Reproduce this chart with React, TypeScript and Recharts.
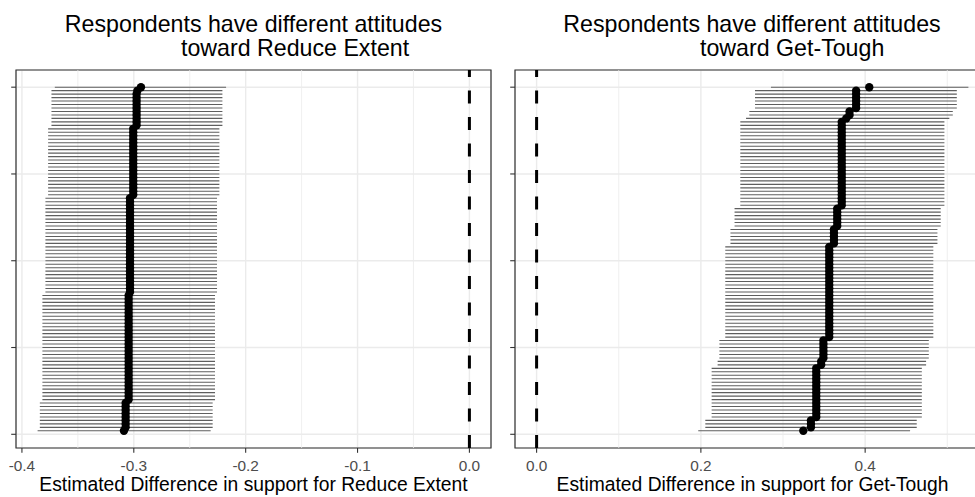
import React from 'react';
import {
  ScatterChart,
  Scatter,
  ErrorBar,
  XAxis,
  YAxis,
  CartesianGrid,
  ReferenceLine,
  ReferenceArea,
} from 'recharts';

const FONT = '"Liberation Sans", Arial, Helvetica, sans-serif';

// row 1 = bottom of the panel, row 100 = top (respondents sorted by estimate)
const reduceEst = [
  -0.3088, -0.3073, -0.3073, -0.3073, -0.3073, -0.3073, -0.3073, -0.3073, -0.3073, -0.3046,
  -0.3046, -0.3046, -0.3046, -0.3046, -0.3046, -0.3046, -0.3046, -0.3046, -0.3046, -0.3046,
  -0.3046, -0.3046, -0.3046, -0.3046, -0.3046, -0.3046, -0.3046, -0.3046, -0.3046, -0.3046,
  -0.3046, -0.3046, -0.3046, -0.3046, -0.3046, -0.3046, -0.3046, -0.3046, -0.3046, -0.3046,
  -0.3034, -0.3034, -0.3034, -0.3034, -0.3034, -0.3034, -0.3034, -0.3034, -0.3034, -0.3034,
  -0.3034, -0.3034, -0.3034, -0.3034, -0.3034, -0.3034, -0.3034, -0.3034, -0.3034, -0.3034,
  -0.3034, -0.3034, -0.3034, -0.3034, -0.3034, -0.3034, -0.3034, -0.3034, -0.3005, -0.3005,
  -0.3005, -0.3005, -0.3005, -0.3005, -0.3005, -0.3005, -0.3005, -0.3005, -0.3005, -0.3005,
  -0.3005, -0.3005, -0.3005, -0.3005, -0.3005, -0.3005, -0.3005, -0.3005, -0.2975, -0.2975,
  -0.2975, -0.2975, -0.2975, -0.2975, -0.2975, -0.2975, -0.2975, -0.2975, -0.2968, -0.2936,
];
const reduceLow = [
  -0.3860, -0.3840, -0.3840, -0.3840, -0.3840, -0.3840, -0.3840, -0.3840, -0.3840, -0.3817,
  -0.3817, -0.3817, -0.3817, -0.3817, -0.3817, -0.3817, -0.3817, -0.3817, -0.3817, -0.3817,
  -0.3817, -0.3817, -0.3817, -0.3817, -0.3817, -0.3817, -0.3817, -0.3817, -0.3817, -0.3817,
  -0.3817, -0.3817, -0.3817, -0.3817, -0.3817, -0.3817, -0.3817, -0.3817, -0.3817, -0.3817,
  -0.3790, -0.3790, -0.3790, -0.3790, -0.3790, -0.3790, -0.3790, -0.3790, -0.3790, -0.3790,
  -0.3790, -0.3790, -0.3790, -0.3790, -0.3790, -0.3790, -0.3790, -0.3790, -0.3790, -0.3790,
  -0.3790, -0.3790, -0.3790, -0.3790, -0.3790, -0.3790, -0.3790, -0.3790, -0.3766, -0.3766,
  -0.3766, -0.3766, -0.3766, -0.3766, -0.3766, -0.3766, -0.3766, -0.3766, -0.3766, -0.3766,
  -0.3766, -0.3766, -0.3766, -0.3766, -0.3766, -0.3766, -0.3766, -0.3766, -0.3736, -0.3736,
  -0.3736, -0.3736, -0.3736, -0.3736, -0.3736, -0.3736, -0.3736, -0.3736, -0.3736, -0.3706,
];
const reduceHigh = [
  -0.2313, -0.2295, -0.2295, -0.2295, -0.2295, -0.2295, -0.2295, -0.2295, -0.2295, -0.2274,
  -0.2274, -0.2274, -0.2274, -0.2274, -0.2274, -0.2274, -0.2274, -0.2274, -0.2274, -0.2274,
  -0.2274, -0.2274, -0.2274, -0.2274, -0.2274, -0.2274, -0.2274, -0.2274, -0.2274, -0.2274,
  -0.2274, -0.2274, -0.2274, -0.2274, -0.2274, -0.2274, -0.2274, -0.2274, -0.2274, -0.2274,
  -0.2256, -0.2256, -0.2256, -0.2256, -0.2256, -0.2256, -0.2256, -0.2256, -0.2256, -0.2256,
  -0.2256, -0.2256, -0.2256, -0.2256, -0.2256, -0.2256, -0.2256, -0.2256, -0.2256, -0.2256,
  -0.2256, -0.2256, -0.2256, -0.2256, -0.2256, -0.2256, -0.2256, -0.2256, -0.2235, -0.2235,
  -0.2235, -0.2235, -0.2235, -0.2235, -0.2235, -0.2235, -0.2235, -0.2235, -0.2235, -0.2235,
  -0.2235, -0.2235, -0.2235, -0.2235, -0.2235, -0.2235, -0.2235, -0.2235, -0.2208, -0.2208,
  -0.2208, -0.2208, -0.2208, -0.2208, -0.2208, -0.2208, -0.2208, -0.2208, -0.2208, -0.2175,
];

const toughEst = [
  0.3247, 0.3340, 0.3340, 0.3340, 0.3405, 0.3405, 0.3405, 0.3405, 0.3405, 0.3405,
  0.3405, 0.3405, 0.3405, 0.3405, 0.3405, 0.3405, 0.3405, 0.3405, 0.3405, 0.3465,
  0.3465, 0.3492, 0.3492, 0.3492, 0.3492, 0.3492, 0.3492, 0.3563, 0.3563, 0.3563,
  0.3563, 0.3563, 0.3563, 0.3563, 0.3563, 0.3563, 0.3563, 0.3563, 0.3563, 0.3563,
  0.3563, 0.3563, 0.3563, 0.3563, 0.3563, 0.3563, 0.3563, 0.3563, 0.3563, 0.3563,
  0.3563, 0.3563, 0.3563, 0.3563, 0.3620, 0.3620, 0.3620, 0.3620, 0.3620, 0.3660,
  0.3660, 0.3660, 0.3660, 0.3660, 0.3660, 0.3715, 0.3715, 0.3715, 0.3715, 0.3715,
  0.3715, 0.3715, 0.3715, 0.3715, 0.3715, 0.3715, 0.3715, 0.3715, 0.3715, 0.3715,
  0.3715, 0.3715, 0.3715, 0.3715, 0.3715, 0.3715, 0.3715, 0.3715, 0.3715, 0.3715,
  0.3770, 0.3810, 0.3810, 0.3890, 0.3890, 0.3890, 0.3890, 0.3890, 0.3890, 0.4050,
];
const toughLow = [
  0.1968, 0.2054, 0.2054, 0.2054, 0.2131, 0.2131, 0.2131, 0.2131, 0.2131, 0.2131,
  0.2131, 0.2131, 0.2131, 0.2131, 0.2131, 0.2131, 0.2131, 0.2131, 0.2131, 0.2204,
  0.2204, 0.2225, 0.2225, 0.2225, 0.2225, 0.2225, 0.2225, 0.2297, 0.2297, 0.2297,
  0.2297, 0.2297, 0.2297, 0.2297, 0.2297, 0.2297, 0.2297, 0.2297, 0.2297, 0.2297,
  0.2297, 0.2297, 0.2297, 0.2297, 0.2297, 0.2297, 0.2297, 0.2297, 0.2297, 0.2297,
  0.2297, 0.2297, 0.2297, 0.2297, 0.2360, 0.2360, 0.2360, 0.2360, 0.2360, 0.2410,
  0.2410, 0.2410, 0.2410, 0.2410, 0.2410, 0.2480, 0.2480, 0.2480, 0.2480, 0.2480,
  0.2480, 0.2480, 0.2480, 0.2480, 0.2480, 0.2480, 0.2480, 0.2480, 0.2480, 0.2480,
  0.2480, 0.2480, 0.2480, 0.2480, 0.2480, 0.2480, 0.2480, 0.2480, 0.2480, 0.2480,
  0.2550, 0.2590, 0.2590, 0.2659, 0.2659, 0.2659, 0.2659, 0.2659, 0.2659, 0.2853,
];
const toughHigh = [
  0.4547, 0.4628, 0.4628, 0.4628, 0.4690, 0.4690, 0.4690, 0.4690, 0.4690, 0.4690,
  0.4690, 0.4690, 0.4690, 0.4690, 0.4690, 0.4690, 0.4690, 0.4690, 0.4690, 0.4742,
  0.4742, 0.4775, 0.4775, 0.4775, 0.4775, 0.4775, 0.4775, 0.4830, 0.4830, 0.4830,
  0.4830, 0.4830, 0.4830, 0.4830, 0.4830, 0.4830, 0.4830, 0.4830, 0.4830, 0.4830,
  0.4830, 0.4830, 0.4830, 0.4830, 0.4830, 0.4830, 0.4830, 0.4830, 0.4830, 0.4830,
  0.4830, 0.4830, 0.4830, 0.4830, 0.4880, 0.4880, 0.4880, 0.4880, 0.4880, 0.4920,
  0.4920, 0.4920, 0.4920, 0.4920, 0.4920, 0.4965, 0.4965, 0.4965, 0.4965, 0.4965,
  0.4965, 0.4965, 0.4965, 0.4965, 0.4965, 0.4965, 0.4965, 0.4965, 0.4965, 0.4965,
  0.4965, 0.4965, 0.4965, 0.4965, 0.4965, 0.4965, 0.4965, 0.4965, 0.4965, 0.4965,
  0.5025, 0.5067, 0.5067, 0.5116, 0.5116, 0.5116, 0.5116, 0.5116, 0.5116, 0.5257,
];

const rowDomain: [number, number] = [-3.95, 104.95];
const rowTicks = [0, 25, 50, 75, 100];
const reduceTicks = [-0.4, -0.3, -0.2, -0.1, 0];
const reduceMinor = [-0.35, -0.25, -0.15, -0.05];
const toughTicks = [0, 0.2, 0.4];
const toughMinor = [0.1, 0.3, 0.5];

type PanelProps = {
  est: number[];
  low: number[];
  high: number[];
  domain: [number, number];
  ticks: number[];
  minor: number[];
  xLabel: string;
  width: number;
  rightMargin: number;
};

const Dot = (p: any) => <circle cx={p.cx} cy={p.cy} r={4.2} fill="#000" />;
const NoDot = () => <g />;

function Panel({ est, low, high, domain, ticks, minor, xLabel, width, rightMargin }: PanelProps) {
  const data = est.map((e, i) => ({ row: i + 1, est: e, err: [e - low[i], high[i] - e] }));
  return (
    <ScatterChart width={width} height={497} margin={{ top: 70, right: rightMargin, bottom: 0, left: 0 }}>
      <CartesianGrid stroke="#ebebeb" strokeWidth={1.4} />
      {minor.map((m) => (
        <ReferenceLine key={m} x={m} stroke="#ebebeb" strokeWidth={0.8} />
      ))}
      <XAxis
        type="number"
        dataKey="est"
        domain={domain}
        ticks={ticks}
        allowDataOverflow
        height={49}
        axisLine={false}
        tickLine={{ stroke: '#333', strokeWidth: 1.1 }}
        tickSize={4.8}
        tickMargin={6.8}
        tickFormatter={(v: number) => v.toFixed(1)}
        tick={{ fill: '#4d4d4d', fontSize: 15.4, fontFamily: FONT }}
        label={{ value: xLabel, position: 'insideBottom', offset: 6, fill: '#000', fontSize: 19.3, fontFamily: FONT }}
      />
      <YAxis
        type="number"
        dataKey="row"
        domain={rowDomain}
        ticks={rowTicks}
        allowDataOverflow
        width={16}
        axisLine={false}
        tickLine={{ stroke: '#333', strokeWidth: 1.1 }}
        tickSize={4.8}
        tickFormatter={() => ''}
      />
      <ReferenceLine x={0} stroke="#000" strokeWidth={3} strokeDasharray="13 13.5" />
      <Scatter data={data} isAnimationActive={false} shape={NoDot}>
        <ErrorBar dataKey="err" direction="x" width={0} stroke="#5e5e5e" strokeWidth={1.1} isAnimationActive={false} />
      </Scatter>
      <Scatter data={data} isAnimationActive={false} shape={Dot} />
      <ReferenceArea
        x1={domain[0]}
        x2={domain[1]}
        y1={rowDomain[0]}
        y2={rowDomain[1]}
        fill="none"
        stroke="#333"
        strokeWidth={1.2}
        ifOverflow="visible"
      />
    </ScatterChart>
  );
}

export default function App() {
  const titleStyle = { fontFamily: FONT, fontSize: 23.2, fill: '#000' };
  return (
    <div style={{ position: 'fixed', left: 0, top: 0, width: 975, height: 497, overflow: 'hidden', background: '#fff' }}>
      <div style={{ position: 'absolute', left: 0, top: 0 }}>
        <Panel
          est={reduceEst}
          low={reduceLow}
          high={reduceHigh}
          domain={[-0.4053, 0.0193]}
          ticks={reduceTicks}
          minor={reduceMinor}
          xLabel="Estimated Difference in support for Reduce Extent"
          width={500}
          rightMargin={9}
        />
      </div>
      <div style={{ position: 'absolute', left: 499, top: 0 }}>
        <Panel
          est={toughEst}
          low={toughLow}
          high={toughHigh}
          domain={[-0.0263, 0.552]}
          ticks={toughTicks}
          minor={toughMinor}
          xLabel="Estimated Difference in support for Get-Tough"
          width={499}
          rightMargin={8}
        />
      </div>
      <svg width={975} height={68} style={{ position: 'absolute', left: 0, top: 0 }}>
        <text x={253.5} y={32} textAnchor="middle" {...titleStyle}>Respondents have different attitudes</text>
        <text x={181} y={56} {...titleStyle}>toward Reduce Extent</text>
        <text x={752} y={32} textAnchor="middle" {...titleStyle}>Respondents have different attitudes</text>
        <text x={700} y={56} {...titleStyle}>toward Get-Tough</text>
      </svg>
    </div>
  );
}
